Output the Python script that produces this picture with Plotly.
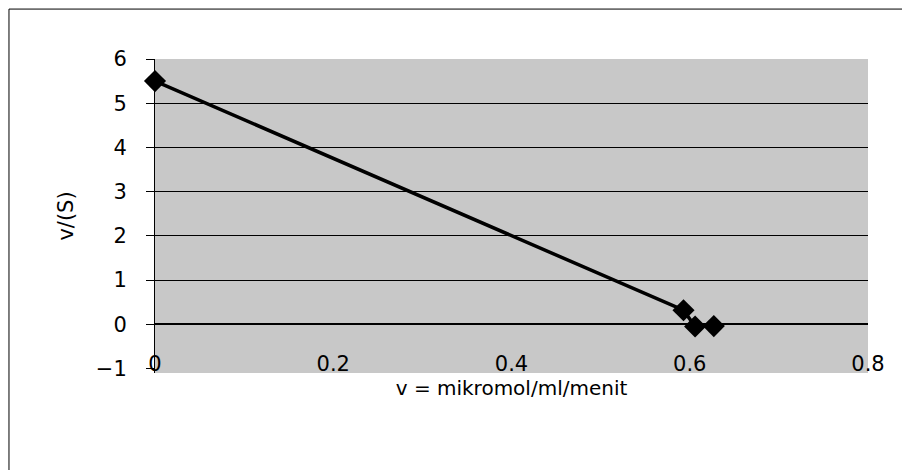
import plotly.graph_objects as go

# Data
x_vals = [0.0, 0.593, 0.606, 0.627]
y_vals = [5.5, 0.32, -0.05, -0.04]

x_ticks = [0, 0.2, 0.4, 0.6, 0.8]
x_tick_text = ["0", "0.2", "0.4", "0.6", "0.8"]
y_ticks = [-1, 0, 1, 2, 3, 4, 5, 6]
y_grid = [1, 2, 3, 4, 5]

x_title = "v = mikromol/ml/menit"
y_title = "v/(S)"

FONT = "DejaVu Sans, Arial, sans-serif"

fig = go.Figure()
fig.add_trace(go.Scatter(
    x=x_vals, y=y_vals, mode="lines+markers",
    line=dict(color="black", width=3.5),
    marker=dict(symbol="diamond", size=17, color="black"),
    cliponaxis=False, showlegend=False,
))

fig.update_layout(
    width=910, height=470,
    margin=dict(l=147, r=50, t=51, b=105),
    paper_bgcolor="white",
    plot_bgcolor="#c8c8c8",
    font=dict(family=FONT, color="black"),
    xaxis=dict(
        range=[0, 0.8], tickvals=x_ticks, ticktext=x_tick_text,
        anchor="free", position=0.075, automargin=False,
        ticks="", showgrid=False, zeroline=False, showline=False,
        tickfont=dict(size=21, family=FONT, color="black"),
        title=dict(text=x_title, font=dict(size=20, family=FONT), standoff=2),
    ),
    yaxis=dict(
        range=[-1.1, 6], tickvals=y_ticks, domain=[0, 1], automargin=False,
        ticks="outside", ticklen=8, tickcolor="black", tickwidth=1,
        showgrid=False,
        minor=dict(tickvals=y_grid, showgrid=True, gridcolor="black", gridwidth=1,
                   ticks="outside", ticklen=8, tickcolor="black"),
        zeroline=True, zerolinecolor="black", zerolinewidth=1.5,
        showline=True, linecolor="black", linewidth=1,
        ticklabelstandoff=15,
        tickfont=dict(size=21, family=FONT, color="black"),
        title=dict(text=y_title, font=dict(size=21, family=FONT), standoff=16),
    ),
    shapes=[
        dict(type="line", xref="paper", yref="paper", x0=-0.2048, x1=1.07, y0=1.159, y1=1.159,
             line=dict(color="black", width=1)),
        dict(type="line", xref="paper", yref="paper", x0=-0.2048, x1=-0.2048, y0=1.159, y1=-0.334,
             line=dict(color="black", width=1)),
    ],
)

fig.write_html("out.html")
